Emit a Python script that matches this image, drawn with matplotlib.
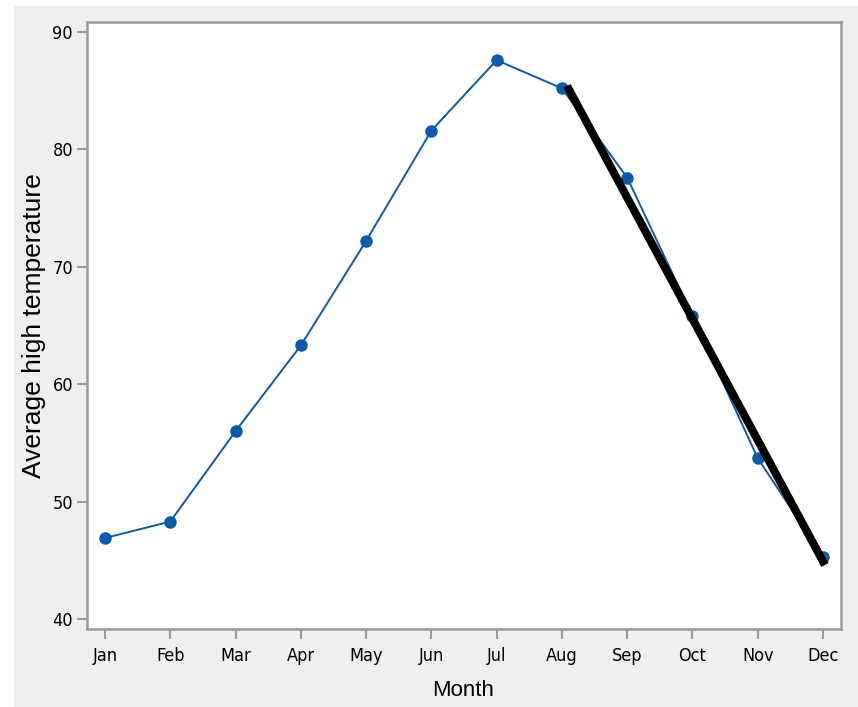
import matplotlib
matplotlib.use("Agg")
import matplotlib.pyplot as plt
from matplotlib.patches import Rectangle
from matplotlib import font_manager

plt.rcParams['font.family'] = ['Liberation Sans', 'DejaVu Sans']

# data
months = ['Jan', 'Feb', 'Mar', 'Apr', 'May', 'Jun',
          'Jul', 'Aug', 'Sep', 'Oct', 'Nov', 'Dec']
avg_high = [46.9, 48.3, 56.0, 63.3, 72.2, 81.6,
            87.6, 85.2, 77.6, 65.8, 53.7, 45.3]
# hand-drawn trend line (x in month index, y in degrees)
trend_x = [7.08, 11.03]
trend_y = [85.4, 44.6]
y_ticks = [40, 50, 60, 70, 80, 90]

W, H = 858, 707
fig = plt.figure(figsize=(W / 100, H / 100), dpi=100)
fig.patch.set_facecolor('#efefef')
# white strips at top and left edges of the screenshot
fig.patches.append(Rectangle((0, 1 - 6 / H), 1, 6 / H, transform=fig.transFigure,
                             facecolor='white', edgecolor='none', zorder=0))
fig.patches.append(Rectangle((0, 0), 14 / W, 1, transform=fig.transFigure,
                             facecolor='white', edgecolor='none', zorder=0))

ax = fig.add_axes([87 / W, 1 - 629 / H, (841 - 87) / W, (629 - 22) / H])
ax.set_facecolor('white')

x = list(range(len(months)))
blue = '#0b5aab'
ax.plot(x, avg_high, color=blue, linewidth=1.4, marker='o', markersize=9,
        markeredgewidth=0, zorder=3)
ax.plot(trend_x, trend_y, color='black', linewidth=5.8, solid_capstyle='butt', zorder=4)

ax.set_xlim(-0.276, 11.276)
ax.set_ylim(39.15, 90.85)
ax.set_xticks(x)
ax.set_xticklabels(months)
ax.set_yticks(y_ticks)

for sp in ax.spines.values():
    sp.set_color('#9a9a9a')
    sp.set_linewidth(1.8)

ax.tick_params(axis='both', which='major', direction='out', length=7, width=1.5,
               color='#9a9a9a', labelcolor='black')
ax.tick_params(axis='x', pad=6)
ax.tick_params(axis='y', pad=3)

# condensed face for the tick labels
tick_font = font_manager.FontProperties(family='DejaVu Sans', stretch='condensed', size=13)
for lab in ax.get_xticklabels() + ax.get_yticklabels():
    lab.set_fontproperties(tick_font)

ax.set_xlabel('Month', fontsize=16, va='center')
ax.set_ylabel('Average high temperature', fontsize=19, va='center')
ax.xaxis.set_label_coords((463 - 87) / (841 - 87), -(691 - 629) / (629 - 22))
ax.yaxis.set_label_coords(-(87 - 34) / (841 - 87), 0.5)

fig.savefig('out.png', dpi=100, facecolor=fig.get_facecolor())
